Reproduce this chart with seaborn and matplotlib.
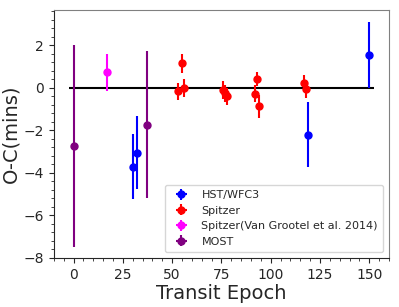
import matplotlib
matplotlib.use("Agg")
import matplotlib.pyplot as plt
import seaborn as sns
from matplotlib.ticker import AutoMinorLocator

# -------------------- data --------------------
hst_epoch = [30, 32, 119, 150]
hst_oc = [-3.72, -3.05, -2.2, 1.55]
hst_err = [1.53, 1.72, 1.53, 1.55]

spz_epoch = [53, 55, 56, 76, 77, 78, 92, 93, 94, 117, 118]
spz_oc = [-0.16, 1.16, -0.02, -0.1, -0.25, -0.4, -0.28, 0.42, -0.87, 0.2, -0.06]
spz_err = [0.4, 0.45, 0.43, 0.42, 0.4, 0.4, 0.4, 0.32, 0.55, 0.4, 0.43]

vg_epoch = [17]
vg_oc = [0.72]
vg_err = [0.87]

most_epoch = [0, 37]
most_oc = [-2.75, -1.74]
most_err = [4.75, 3.45]

series = [
    ("HST/WFC3", hst_epoch, hst_oc, hst_err, "blue"),
    ("Spitzer", spz_epoch, spz_oc, spz_err, "red"),
    ("Spitzer(Van Grootel et al. 2014)", vg_epoch, vg_oc, vg_err, "magenta"),
    ("MOST", most_epoch, most_oc, most_err, "purple"),
]

# -------------------- plot --------------------
sns.set_style("ticks")
plt.rcParams['font.family'] = ['DejaVu Sans']

fig, ax = plt.subplots(figsize=(3.99, 3.07), dpi=100)

ax.hlines(0, -2.5, 152.5, color='black', lw=1.5, zorder=1)

for label, x, y, e, c in series:
    # xerr=0 only to get the cross-shaped legend handle
    ax.errorbar(x, y, yerr=e, xerr=[0] * len(x), fmt='o', color=c, ms=5,
                elinewidth=1.5, capsize=0, label=label, zorder=3)

ax.set_xlim(-10, 160)
ax.set_ylim(-8, 3.65)
ax.set_xticks([0, 25, 50, 75, 100, 125, 150])
ax.set_yticks([-8, -6, -4, -2, 0, 2])
ax.set_yticklabels(['\u22128', '\u22126', '\u22124', '\u22122', '0', '2'])
ax.xaxis.set_minor_locator(AutoMinorLocator(5))
ax.yaxis.set_minor_locator(AutoMinorLocator(5))
ax.tick_params(labelsize=10)
ax.tick_params(which='major', length=3.5)
ax.tick_params(which='minor', length=2)
for s in ['top', 'right']:
    ax.spines[s].set_color('gray')

ax.set_xlabel('Transit Epoch', fontsize=14, labelpad=2)
ax.set_ylabel('O-C(mins)', fontsize=14, labelpad=2)

ax.legend(loc='lower right', fontsize=8, borderpad=0.5, handletextpad=0.8)

plt.subplots_adjust(left=0.135, right=0.975, top=0.967, bottom=0.16)
plt.savefig('out.png', dpi=100)
